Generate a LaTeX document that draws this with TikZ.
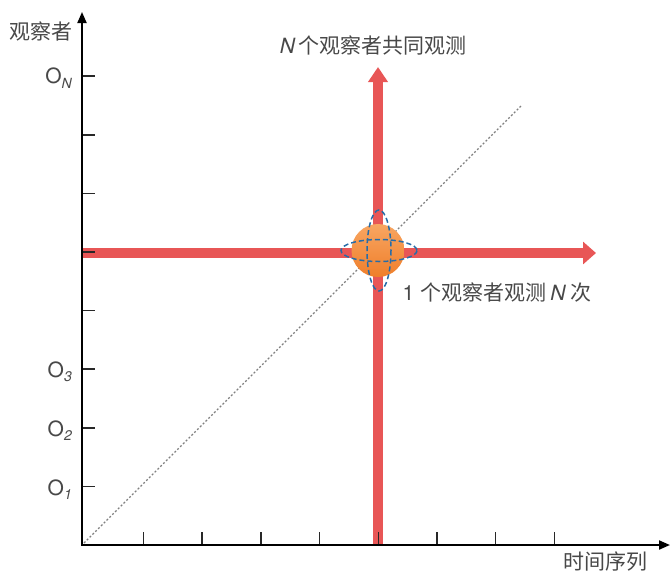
\documentclass[tikz,border=0pt]{standalone}
\usepackage{fontspec}
\setmainfont{TeX Gyre Heros}
\newfontfamily\cjk{Noto Sans CJK SC}
\usetikzlibrary{arrows.meta}
\definecolor{redA}{RGB}{232,86,86}
\definecolor{orgT}{RGB}{248,166,98}
\definecolor{orgB}{RGB}{239,126,42}
\definecolor{blueD}{RGB}{38,108,168}
\definecolor{txt}{RGB}{72,72,72}
\definecolor{tickc}{RGB}{40,40,40}
\begin{document}
\begin{tikzpicture}[x=1pt,y=-1pt,
  cjklbl/.style={inner sep=0pt, text=txt, font=\cjk\fontsize{21}{24}\selectfont},
  olbl/.style={inner sep=0pt, text=txt, anchor=base east, font=\fontsize{21}{24}\selectfont},
  axisline/.style={line width=2pt, black},
  tickline/.style={line width=1.5pt, tickc},
  redarrow/.style={line width=10pt, redA},
  diagline/.style={line width=1.2pt, black!50, dash pattern=on 2pt off 2pt},
  bluedash/.style={line width=1.5pt, blueD, dash pattern=on 5pt off 3pt}]
\useasboundingbox (0,0) rectangle (671,573);
% coordinates
\coordinate (orig) at (82,545);
\coordinate (ytip) at (82,12);
\coordinate (xtip) at (670,545);
\coordinate (diagA) at (84,543);
\coordinate (diagB) at (521,106);
\coordinate (hs) at (82,253);
\coordinate (he) at (596,253);
\coordinate (vs) at (378,545);
\coordinate (ve) at (378,67);
\coordinate (cc) at (378,250.5);
\coordinate (dc) at (379,250.5);
% diagonal
\draw[diagline] (diagA) -- (diagB);
% red arrows
\draw[redarrow, -{Triangle[width=22pt,length=13pt]}] (hs) -- (he);
\draw[redarrow, -{Triangle[width=19pt,length=15pt]}] (vs) -- (ve);
% ticks
\foreach \yy in {76.2,134.8,193.4,252,310.6,369.2,427.8,486.4}
  \draw[tickline] (82,\yy) -- (95,\yy);
\foreach \xx in {143.5,202.2,260.9,319.6,378.3,437,495.7,554.4}
  \draw[tickline] (\xx,545) -- (\xx,532);
% axes
\draw[axisline, line join=miter, {Triangle[width=9pt,length=11pt]}-{Triangle[width=9pt,length=11pt]}] (ytip) -- (orig) -- (xtip);
% ball
\shade[top color=orgT, bottom color=orgB] (cc) circle[radius=26.5];
\draw[bluedash] (dc) ellipse[x radius=12, y radius=40.5];
\draw[bluedash] (dc) ellipse[x radius=38, y radius=11];
% labels
\node[cjklbl] (ylab) at (41,31) {观察者};
\node[cjklbl] (xlab) at (605,562) {时间序列};
\node[cjklbl] (title) at (373,45) {{\fontspec{TeX Gyre Heros}\itshape N}\hspace{3pt}个观察者共同观测};
\node[cjklbl] (note) at (497,293) {{\fontspec{TeX Gyre Heros}1}\hspace{6pt}个观察者观测\hspace{4pt}{\fontspec{TeX Gyre Heros}\itshape N}\hspace{5pt}次};
\node[olbl] (oN) at (72,83.5) {O\raisebox{-4.5pt}{\fontsize{14}{14}\selectfont\itshape N}};
\node[olbl] (o3) at (72,377) {O\raisebox{-4.5pt}{\fontsize{14}{14}\selectfont\itshape 3}};
\node[olbl] (o2) at (72,436) {O\raisebox{-4.5pt}{\fontsize{14}{14}\selectfont\itshape 2}};
\node[olbl] (o1) at (72,495) {O\raisebox{-4.5pt}{\fontsize{14}{14}\selectfont\itshape 1}};
\end{tikzpicture}
\end{document}
